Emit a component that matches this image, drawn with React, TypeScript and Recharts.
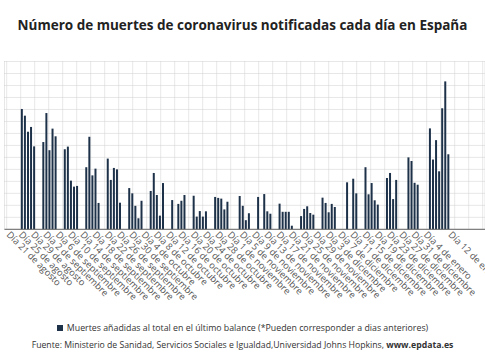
import React from 'react';
import { BarChart, Bar, XAxis, YAxis, CartesianGrid } from 'recharts';

// Months covered by the chart (start: 21 August)
const monthNames = ['agosto', 'septiembre', 'octubre', 'noviembre', 'diciembre', 'enero'];
const monthLengths = [31, 30, 31, 30, 31, 31];
const startDay = 21;
const dayCount = 145;

// Deaths added to the total in each daily report
const deaths = [
  0, 0, 0, 0, 0,
  502, 474, 407, 427, 346, 0, 0,
  364, 485, 330, 420, 388, 0, 0,
  334, 345, 203, 178, 181, 0, 0,
  259, 386, 225, 253, 110, 0, 0,
  295, 206, 256, 250, 111, 0, 0,
  172, 150, 98, 46, 119, 0, 0,
  160, 235, 143, 57, 193, 0, 0,
  122, 0, 106, 119, 143, 0, 0,
  140, 53, 76, 53, 75, 0, 0,
  135, 131, 128, 83, 115, 0, 0,
  0, 139, 98, 38, 67, 0, 0,
  135, 0, 147, 75, 65, 0, 0,
  107, 73, 73, 73, 15, 0, 0,
  55, 85, 96, 68, 61, 0, 0,
  132, 110, 71, 106, 93, 0, 0,
  0, 196, 0, 211, 150, 0, 0,
  259, 146, 193, 121, 103, 0, 0,
  214, 235, 126, 206, 0, 0, 0,
  300, 285, 194, 186, 0, 0, 0,
  421, 291, 372, 242, 505, 617, 313,
];

const buildDays = (): string[] => {
  const out: string[] = [];
  let m = 0;
  let d = startDay;
  for (let i = 0; i < dayCount; i++) {
    out.push(`Día ${d} de ${monthNames[m]}`);
    d += 1;
    if (d > monthLengths[m]) {
      d = 1;
      m += 1;
    }
  }
  return out;
};

const days = buildDays();

const tickLabels = [
  'Día 21 de agosto', 'Día 25 de agosto', 'Día 29 de agosto', 'Día 2 de septiembre',
  'Día 6 de septiembre', 'Día 10 de septiembre', 'Día 14 de septiembre', 'Día 18 de septiembre',
  'Día 22 de septiembre', 'Día 26 de septiembre', 'Día 30 de septiembre', 'Día 4 de octubre',
  'Día 8 de octubre', 'Día 12 de octubre', 'Día 16 de octubre', 'Día 20 de octubre',
  'Día 24 de octubre', 'Día 28 de octubre', 'Día 1 de noviembre', 'Día 5 de noviembre',
  'Día 9 de noviembre', 'Día 13 de noviembre', 'Día 17 de noviembre', 'Día 21 de noviembre',
  'Día 25 de noviembre', 'Día 29 de noviembre', 'Día 3 de diciembre', 'Día 7 de diciembre',
  'Día 11 de diciembre', 'Día 15 de diciembre', 'Día 19 de diciembre', 'Día 23 de diciembre',
  'Día 27 de diciembre', 'Día 31 de diciembre', 'Día 4 de enero', 'Día 12 de enero',
];

const yTicks = [0, 50, 100, 150, 200, 250, 300, 350, 400, 450, 500, 550, 600, 650, 700];
const gridSlots = ['g0', 'g1', 'g2', 'g3', 'g4', 'g5', 'g6', 'g7', 'g8', 'g9', 'g10', 'g11', 'g12', 'g13', 'g14', 'g15', 'g16', 'g17', 'g18', 'g19', 'g20', 'g21', 'g22', 'g23', 'g24', 'g25', 'g26', 'g27', 'g28', 'g29', 'g30', 'g31', 'g32', 'g33', 'g34'];

const data = days.map((day, i) => ({ day, muertes: deaths[i] }));
const gridData = gridSlots.map((slot) => ({ slot, base: 0 }));

const FONT = '"Open Sans", "Noto Sans", sans-serif';
const BAR_COLOR = '#1d3149';
const GRID_COLOR = '#cfcfcf';
const MARGIN = { top: 61.5, right: 0, bottom: 0, left: 4.5 };

const EmptyTick = () => <g />;

const AngledTick = (props: any) => {
  const { x, y, payload } = props;
  if (!tickLabels.includes(payload.value)) return null;
  const ty = y + 6;
  return (
    <text
      x={x}
      y={ty}
      transform={`rotate(45 ${x} ${ty})`}
      textAnchor="start"
      fontSize={9.3}
      fontFamily={FONT}
      fill="#555"
    >
      {payload.value}
    </text>
  );
};

export default function App() {
  return (
    <div
      style={{
        position: 'absolute',
        left: 0,
        top: 0,
        width: 485,
        height: 360,
        background: '#fff',
        overflow: 'hidden',
        fontFamily: FONT,
      }}
    >
      <div
        style={{
          position: 'absolute',
          left: 0,
          top: 16,
          width: 485,
          textAlign: 'center',
          fontSize: 13.5,
          fontWeight: 700,
          color: '#222',
          lineHeight: '18px',
          whiteSpace: 'nowrap',
        }}
      >
        Número de muertes de coronavirus notificadas cada día en España
      </div>
      {/* background grid */}
      <div style={{ position: 'absolute', left: 0, top: 0 }}>
        <BarChart width={485} height={360} data={gridData} margin={MARGIN}>
          <CartesianGrid stroke={GRID_COLOR} strokeDasharray="1 1" />
          <XAxis
            dataKey="slot"
            type="category"
            scale="point"
            interval={0}
            padding={{ left: 2.2, right: 2.3 }}
            axisLine={false}
            tickLine={false}
            tick={<EmptyTick />}
            height={130.7}
          />
          <YAxis
            domain={[0, 700]}
            ticks={yTicks}
            interval={0}
            width={0}
            axisLine={false}
            tickLine={false}
            tick={<EmptyTick />}
          />
          <Bar dataKey="base" fill="transparent" isAnimationActive={false} />
        </BarChart>
      </div>
      {/* bars */}
      <div style={{ position: 'absolute', left: 0, top: 0 }}>
        <BarChart
          width={485}
          height={360}
          data={data}
          margin={MARGIN}
          barCategoryGap={0}
        >
          <XAxis
            dataKey="day"
            type="category"
            interval={0}
            tick={<AngledTick />}
            tickLine={false}
            tickSize={0}
            tickMargin={0}
            height={130.7}
            padding={{ left: 0, right: 35.6 }}
            axisLine={{ stroke: '#666', strokeWidth: 1 }}
          />
          <YAxis
            domain={[0, 700]}
            ticks={yTicks}
            width={0}
            axisLine={false}
            tickLine={false}
            tick={false}
          />
          <Bar dataKey="muertes" fill={BAR_COLOR} barSize={2} isAnimationActive={false} />
        </BarChart>
      </div>
      <div
        style={{
          position: 'absolute',
          left: 0,
          top: 322,
          width: 485,
          textAlign: 'center',
          fontSize: 8.8,
          color: '#333',
          lineHeight: '12px',
          whiteSpace: 'nowrap',
        }}
      >
        <span
          style={{
            display: 'inline-block',
            width: 6,
            height: 6,
            background: BAR_COLOR,
            marginRight: 4,
            verticalAlign: 'middle',
            position: 'relative',
            top: -1,
          }}
        />
        Muertes añadidas al total en el último balance (*Pueden corresponder a dias anteriores)
      </div>
      <div
        style={{
          position: 'absolute',
          left: 0,
          top: 339,
          width: 485,
          textAlign: 'center',
          fontSize: 8.7,
          color: '#333',
          lineHeight: '12px',
          whiteSpace: 'nowrap',
        }}
      >
        Fuente: Ministerio de Sanidad, Servicios Sociales e Igualdad,Universidad Johns Hopkins,{' '}
        <b>www.epdata.es</b>
      </div>
    </div>
  );
}
